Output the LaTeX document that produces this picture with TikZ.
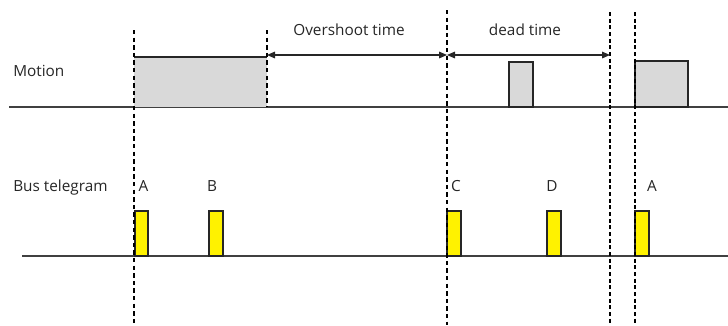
\documentclass[tikz,border=0pt]{standalone}
\usepackage{fontspec}
\setmainfont{Open Sans}
\usetikzlibrary{arrows.meta}
\definecolor{pulsegray}{HTML}{D9D9D9}
\definecolor{baseline}{HTML}{404040}
\tikzset{
  lbl/.style={inner sep=0pt, font=\fontsize{11.5}{14}\selectfont, text=black!85},
  guide/.style={draw=black, line width=0.85pt, dash pattern=on 3.3pt off 2.4pt},
  guidebold/.style={draw=black, line width=1.25pt, dash pattern=on 3pt off 2pt},
  axisline/.style={draw=baseline, line width=0.9pt},
  motionpulse/.style={fill=pulsegray, draw=black!85, line width=0.8pt},
  buspulse/.style={fill=yellow, draw=black!85, line width=0.8pt},
  span/.style={draw=black!85, line width=0.8pt, {Triangle[length=6pt,width=5pt]}-{Triangle[length=6pt,width=5pt]}}
}
\begin{document}
\begin{tikzpicture}[x=0.75pt, y=-0.75pt]
\useasboundingbox (0,0) rectangle (728,325);
% baselines
\coordinate (mL) at (9,107);
\coordinate (mR) at (728,107);
\coordinate (bL) at (22,256);
\coordinate (bR) at (728,256);
\draw[axisline] (mL) -- (mR);
\draw[axisline] (bL) -- (bR);
% motion pulses
\fill[pulsegray] (134,57) rectangle (267,107);
\draw[black!85, line width=0.8pt] (134,57) -- (267,57);
\draw[motionpulse] (509,62) rectangle (533,107);
\draw[motionpulse] (635,61) rectangle (688,107);
% bus pulses
\draw[buspulse] (135,211) rectangle (148,256);
\draw[buspulse] (209,211) rectangle (223,256);
\draw[buspulse] (447,211) rectangle (461,256);
\draw[buspulse] (547,211) rectangle (561,256);
\draw[buspulse] (635,211) rectangle (649,256);
% guides
\coordinate (g1t) at (134,30);  \coordinate (g1b) at (134,325);
\coordinate (g2t) at (267,30);  \coordinate (g2b) at (267,107);
\coordinate (g3t) at (447,10);  \coordinate (g3b) at (447,325);
\coordinate (g4t) at (610,12); \coordinate (g4b) at (610,325);
\coordinate (g5t) at (635,12); \coordinate (g5b) at (635,325);
\draw[guide] (g1t) -- (g1b);
\draw[guide] (g2t) -- (g2b);
\draw[guide] (g3t) -- (g3b);
\draw[guidebold] (g4t) -- (g4b);
\draw[guidebold] (g5t) -- (g5b);
% spans
\coordinate (a1) at (267,55);
\coordinate (a2) at (447,55);
\coordinate (a3) at (610,55);
\draw[span] (a1) -- (a2);
\draw[span] (a2) -- (a3);
% labels
\node[lbl, anchor=base] (ot) at (349,35) {Overshoot time};
\node[lbl, anchor=base] (dt) at (525,35) {dead time};
\node[lbl, anchor=base west] (mo) at (13,76) {Motion};
\node[lbl, anchor=base west] (bt) at (13,191) {Bus telegram};
\node[lbl, anchor=base] (la) at (143.5,191) {A};
\node[lbl, anchor=base] (lb) at (212,191) {B};
\node[lbl, anchor=base] (lc) at (456,191) {C};
\node[lbl, anchor=base] (ld) at (552,191) {D};
\node[lbl, anchor=base] (la2) at (652,191) {A};
\end{tikzpicture}
\end{document}
